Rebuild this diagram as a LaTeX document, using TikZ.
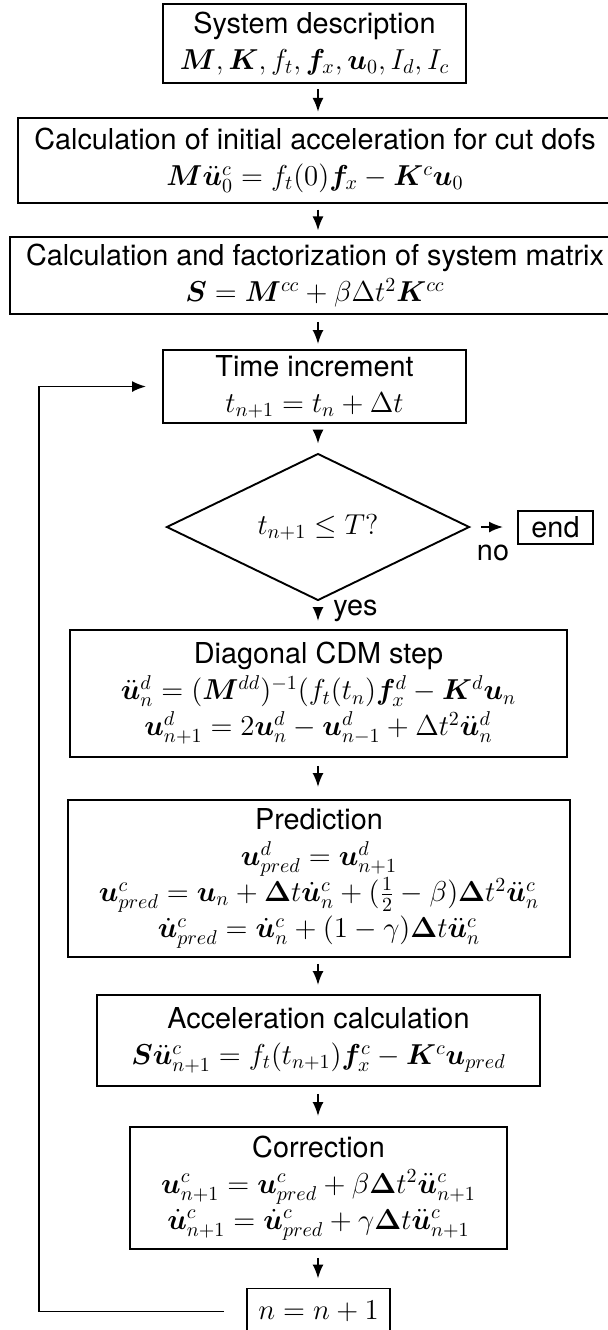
\documentclass[tikz,border=0pt]{standalone}
\usepackage{bm}
\usepackage[no-math]{fontspec}
\newfontfamily\helv{TeX Gyre Heros}
\usetikzlibrary{shapes.geometric,arrows.meta,calc}
\begin{document}
\begin{tikzpicture}[x=0.5pt,y=-0.5pt,
  box/.style={draw, line width=0.95pt, inner sep=0pt, align=center, font=\Large\helv},
  arr/.style={-{Latex[length=7pt,width=5.5pt]}, line width=0.95pt},
  lbl/.style={font=\Large\helv, inner sep=0pt}]
\useasboundingbox (0,0) rectangle (608,1330);
\fill[white] (0,0) rectangle (608,1330);
\coordinate (ax) at (318,0);

\node[box, minimum width=151.5pt, minimum height=39.5pt] (sys) at (314.5,43.4)
  {System description\\ $\bm{M},\bm{K},f_t,\bm{f}_x,\bm{u}_0,I_d,I_c$};
\node[box, minimum width=297pt, minimum height=42.5pt] (init) at (315,160.5)
  {Calculation of initial acceleration for cut dofs\\ $\bm{M}\ddot{\bm{u}}^c_0=f_t(0)\bm{f}_x-\bm{K}^c\bm{u}_0$};
\node[box, minimum width=305pt, minimum height=38.5pt] (smat) at (315,275.5)
  {Calculation and factorization of system matrix\\ $\bm{S}=\bm{M}^{cc}+\beta\Delta t^2\bm{K}^{cc}$};
\node[box, minimum width=151.5pt, minimum height=36.5pt] (tinc) at (314.5,386.5)
  {Time increment\\ $t_{n+1}=t_n+\Delta t$};
\node[diamond, draw, line width=0.95pt, inner sep=0pt, minimum width=151.5pt, minimum height=65pt, font=\Large] (dia) at (318,527)
  {$t_{n+1}\le T?$};
\node[box, minimum width=37.5pt, minimum height=16.5pt] (end) at (555.5,527.5) {end};
\node[box, minimum width=248.5pt, minimum height=63.5pt] (cdm) at (318.5,693.5)
  {Diagonal CDM step\\ $\ddot{\bm{u}}^d_n=(\bm{M}^{dd})^{-1}(f_t(t_n)\bm{f}^d_x-\bm{K}^d\bm{u}_n$\\ $\bm{u}^d_{n+1}=2\bm{u}^d_n-\bm{u}^d_{n-1}+\Delta t^2\ddot{\bm{u}}^d_n$};
\node[box, minimum width=251pt, minimum height=78.5pt] (pred) at (319,878.5)
  {Prediction\\ $\bm{u}^d_{pred}=\bm{u}^d_{n+1}$\\ $\bm{u}^c_{pred}=\bm{u}_n+\bm{\Delta}t\dot{\bm{u}}^c_n+(\frac{1}{2}-\beta)\bm{\Delta}t^2\ddot{\bm{u}}^c_n$\\ $\dot{\bm{u}}^c_{pred}=\dot{\bm{u}}^c_n+(1-\gamma)\bm{\Delta}t\ddot{\bm{u}}^c_n$};
\node[box, minimum width=221.5pt, minimum height=45.5pt] (acc) at (318.5,1040.5)
  {Acceleration calculation\\ $\bm{S}\ddot{\bm{u}}^c_{n+1}=f_t(t_{n+1})\bm{f}^c_x-\bm{K}^c\bm{u}_{pred}$};
\node[box, minimum width=188.5pt, minimum height=61pt] (corr) at (318.5,1188)
  {Correction\\ $\bm{u}^c_{n+1}=\bm{u}^c_{pred}+\beta\bm{\Delta}t^2\ddot{\bm{u}}^c_{n+1}$\\ $\dot{\bm{u}}^c_{n+1}=\dot{\bm{u}}^c_{pred}+\gamma\bm{\Delta}t\ddot{\bm{u}}^c_{n+1}$};
\node[box, minimum width=71.5pt, minimum height=23pt] (inc) at (318.5,1311.5) {$n=n+1$};

\draw[arr, shorten <=2.6pt, shorten >=2.6pt] (sys.south -| ax) -- (init.north -| ax);
\draw[arr, shorten <=2.8pt, shorten >=2.8pt] (init.south -| ax) -- (smat.north -| ax);
\draw[arr, shorten <=3.5pt, shorten >=2.5pt] (smat.south -| ax) -- (tinc.north -| ax);
\draw[arr, shorten <=4pt, shorten >=4.5pt] (tinc.south -| ax) -- (dia.north);
\draw[arr, shorten <=6.5pt, shorten >=4pt] (dia.south) -- (cdm.north -| ax);
\draw[arr, shorten <=4pt, shorten >=6pt] (cdm.south -| ax) -- (pred.north -| ax);
\draw[arr, shorten <=3pt, shorten >=4.5pt] (pred.south -| ax) -- (acc.north -| ax);
\draw[arr, shorten <=3.5pt, shorten >=5pt] (acc.south -| ax) -- (corr.north -| ax);
\draw[arr, shorten <=4pt, shorten >=4.5pt] (corr.south -| ax) -- (inc.north -| ax);
\draw[arr, shorten <=5.5pt, shorten >=7pt] (dia.east) -- (end.west |- dia.east);
\draw[arr, shorten <=11pt, shorten >=8pt] (inc.west) -- ++(-207,0) |- (tinc.west);

\node[lbl, anchor=base] (no) at (493,560) {no};
\node[lbl, anchor=base west] (yes) at (333,615) {yes};
\end{tikzpicture}
\end{document}
